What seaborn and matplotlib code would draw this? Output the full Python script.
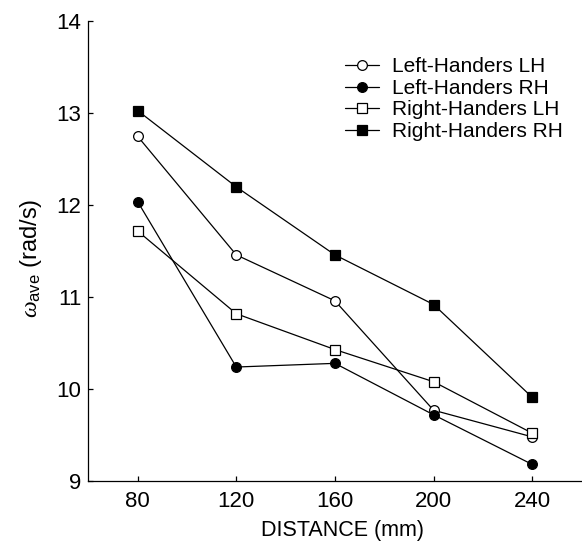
import matplotlib
matplotlib.use("Agg")
import matplotlib.pyplot as plt
import seaborn as sns
import pandas as pd

# Mean angular velocity per target distance, for each handedness group and hand
distance = [80, 120, 160, 200, 240]
left_handers_lh = [12.75, 11.46, 10.96, 9.77, 9.48]
left_handers_rh = [12.04, 10.24, 10.28, 9.72, 9.18]
right_handers_lh = [11.72, 10.82, 10.43, 10.08, 9.52]
right_handers_rh = [13.03, 12.20, 11.46, 10.92, 9.91]

series_names = ["Left-Handers LH", "Left-Handers RH", "Right-Handers LH", "Right-Handers RH"]
series_values = [left_handers_lh, left_handers_rh, right_handers_lh, right_handers_rh]
x_ticks = [80, 120, 160, 200, 240]
y_ticks = [9, 10, 11, 12, 13, 14]

# marker shape and face colour for each series
styles = {
    "Left-Handers LH": ("o", "white"),
    "Left-Handers RH": ("o", "black"),
    "Right-Handers LH": ("s", "white"),
    "Right-Handers RH": ("s", "black"),
}

sns.set_theme(style="white")
plt.rcParams["font.family"] = ["Liberation Sans", "DejaVu Sans"]
plt.rcParams["mathtext.fontset"] = "custom"
plt.rcParams["mathtext.rm"] = "Liberation Sans"
plt.rcParams["mathtext.it"] = "Liberation Serif:italic"

fig = plt.figure(figsize=(5.82, 5.41), dpi=100)
ax = fig.add_axes([0.1517, 0.1109, 0.8476, 0.8495])

for name, vals in zip(series_names, series_values):
    df = pd.DataFrame({"distance": distance, "omega": vals})
    marker, face = styles[name]
    sns.lineplot(
        data=df, x="distance", y="omega", ax=ax,
        color="black", linewidth=0.9,
        marker=marker, markersize=7 if marker == "o" else 6.5,
        markerfacecolor=face, markeredgecolor="black", markeredgewidth=0.9,
        label=name,
    )

ax.set_xlim(60, 260)
ax.set_ylim(9, 14)
ax.set_xticks(x_ticks)
ax.set_yticks(y_ticks)
ax.set_xticklabels([str(t) for t in x_ticks])
ax.set_yticklabels([str(t) for t in y_ticks])

for side in ("top", "right"):
    ax.spines[side].set_visible(False)
for side in ("left", "bottom"):
    ax.spines[side].set_color("black")
    ax.spines[side].set_linewidth(0.9)

ax.tick_params(axis="both", direction="in", length=3.5, width=0.9,
               color="black", labelsize=16, labelcolor="black")
ax.tick_params(axis="x", pad=7, bottom=True)
ax.tick_params(axis="y", pad=5, left=True)

ax.set_xlabel("DISTANCE (mm)", fontsize=15.5, color="black")
ax.xaxis.set_label_coords(0.516, -0.084)
ax.set_ylabel(r"$\omega_{\mathrm{ave}}$ (rad/s)", fontsize=17, color="black")
ax.yaxis.set_label_coords(-0.089, 0.485)

leg = ax.legend(loc="upper left", bbox_to_anchor=(0.504, 0.94), frameon=False,
                fontsize=15, handlelength=1.6, handletextpad=0.65,
                labelspacing=0.12, borderaxespad=0)
for t in leg.get_texts():
    t.set_color("black")

fig.savefig("out.png", dpi=100)
